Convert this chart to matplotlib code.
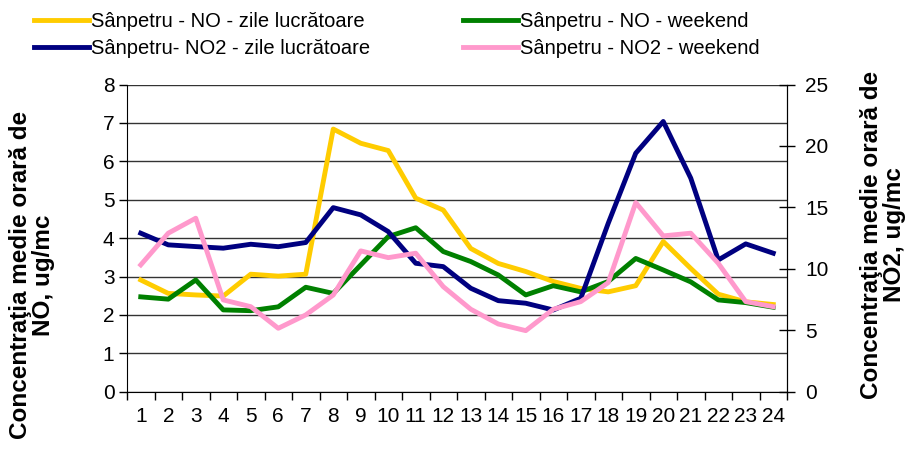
import numpy as np
import matplotlib.pyplot as plt
from matplotlib.ticker import FixedLocator

plt.rcParams['font.family'] = ['Liberation Sans', 'DejaVu Sans']

# hours of day
hours = list(range(1, 25))

# NO, ug/mc (left axis)
no_work = [2.91, 2.56, 2.52, 2.49, 3.06, 3.01, 3.06, 6.84, 6.47, 6.28, 5.04, 4.73,
           3.73, 3.34, 3.13, 2.87, 2.69, 2.60, 2.76, 3.91, 3.21, 2.54, 2.34, 2.27]
no_weekend = [2.47, 2.41, 2.91, 2.13, 2.11, 2.21, 2.72, 2.56, 3.30, 4.04, 4.27, 3.65,
              3.39, 3.04, 2.52, 2.76, 2.60, 2.87, 3.47, 3.17, 2.86, 2.39, 2.32, 2.20]

# NO2, ug/mc (right axis)
no2_work = [12.9, 11.95, 11.81, 11.68, 12.0, 11.8, 12.14, 14.98, 14.39, 13.03, 10.45, 10.18,
            8.42, 7.41, 7.2, 6.65, 7.6, 13.71, 19.41, 21.99, 17.38, 10.72, 12.03, 11.27]
no2_weekend = [10.32, 12.9, 14.12, 7.47, 6.92, 5.16, 6.25, 7.87, 11.46, 10.91, 11.27, 8.55,
               6.71, 5.51, 4.97, 6.71, 7.33, 8.88, 15.39, 12.68, 12.9, 10.45, 7.33, 6.92]

fig = plt.figure(figsize=(9.08, 4.5), dpi=100)
ax = fig.add_axes([127/908, 1 - 391.7/450, 660/908, 307.2/450])
ax2 = ax.twinx()

lw = 3.5
l1, = ax.plot(hours, no_work, color='#FFCC00', lw=lw, label='Sânpetru - NO - zile lucrătoare')
l3, = ax.plot(hours, no_weekend, color='#008000', lw=lw, label='Sânpetru - NO - weekend')
l2, = ax2.plot(hours, no2_work, color='#000080', lw=lw, label='Sânpetru- NO2 - zile lucrătoare')
l4, = ax2.plot(hours, no2_weekend, color='#FF99CC', lw=lw, label='Sânpetru - NO2 - weekend')

ax.set_xlim(0.5, 24.5)
ax.set_ylim(0, 8)
ax2.set_ylim(0, 25)
ax.set_yticks(range(0, 9))
ax2.set_yticks(range(0, 26, 5))
ax.set_xticks(hours)
ax.xaxis.set_minor_locator(FixedLocator(np.arange(0.5, 25, 1)))
ax.tick_params(axis='x', which='major', length=0, labelsize=15, pad=11)
ax.tick_params(axis='x', which='minor', length=6, width=1, direction='out')
ax.tick_params(axis='y', length=6, width=1, direction='out', labelsize=15, pad=3)
ax2.tick_params(axis='y', length=12, width=1, direction='inout', labelsize=15, pad=7)

ax.grid(axis='y', color='#333333', lw=1)
ax.set_axisbelow(True)
for a in (ax, ax2):
    a.spines['top'].set_visible(False)
ax2.spines['left'].set_visible(False)
ax2.spines['bottom'].set_visible(False)

fig.text(32/908, 1 - 275/450, 'Concentraţia medie orară de\nNO, ug/mc', fontsize=17.5,
         fontweight='bold', rotation=90, ha='center', va='center', multialignment='center',
         linespacing=0.95)
fig.text(883/908, 1 - 235/450, 'Concentraţia medie orară de\nNO2, ug/mc', fontsize=17.5,
         fontweight='bold', rotation=90, ha='center', va='center', multialignment='center',
         linespacing=0.95)

fig.legend(handles=[l1, l2, l3, l4], loc='upper left', bbox_to_anchor=(26/908, 1 - 4/450),
           ncol=2, frameon=False, fontsize=14.5, handlelength=2.75, handletextpad=0.08,
           columnspacing=4.6, labelspacing=0.38, borderaxespad=0)

fig.savefig('out.png', dpi=100)
